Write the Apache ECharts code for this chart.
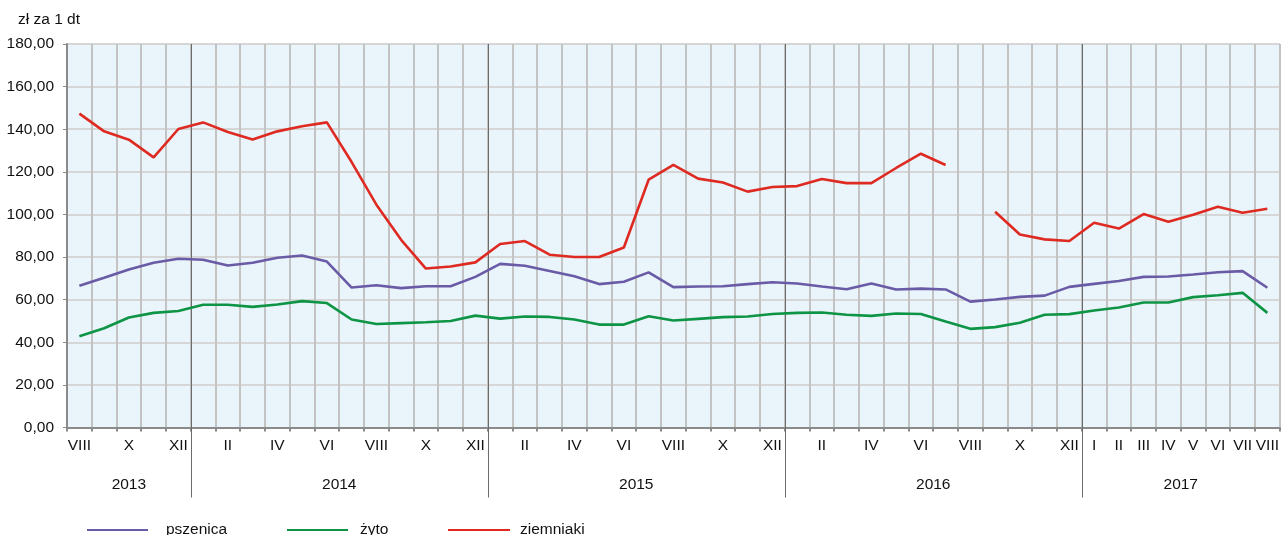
<!DOCTYPE html>
<html>
<head>
<meta charset="utf-8">
<script src="https://cdn.jsdelivr.net/npm/echarts@6/dist/echarts.min.js"></script>
<style>
html,body{margin:0;padding:0;background:#fff;}
#chart{width:1282px;height:535px;}
</style>
</head>
<body>
<div id="chart"></div>
<script>
// ---- data ----
const romanMonths = ['I','II','III','IV','V','VI','VII','VIII','IX','X','XI','XII'];
const yearSpans = [
  {year: '2013', from: 8, to: 12},
  {year: '2014', from: 1, to: 12},
  {year: '2015', from: 1, to: 12},
  {year: '2016', from: 1, to: 12},
  {year: '2017', from: 1, to: 8}
];
const yTicks = [0, 20, 40, 60, 80, 100, 120, 140, 160, 180];

const pszenica = [
  66.5, 70.3, 74.2, 77.3, 79.2,
  78.7, 76.0, 77.3, 79.7, 80.7, 77.9, 65.7, 66.8, 65.4, 66.3, 66.3, 70.7,
  76.8, 75.9, 73.5, 71.0, 67.3, 68.4, 72.8, 65.9, 66.2, 66.3, 67.3, 68.2,
  67.6, 66.2, 64.9, 67.6, 64.8, 65.2, 64.8, 59.1, 60.1, 61.3, 61.9, 66.0,
  67.4, 68.8, 70.7, 70.9, 71.8, 72.9, 73.4, 65.6
];
const zyto = [
  42.8, 46.6, 51.6, 53.8, 54.7,
  57.6, 57.6, 56.6, 57.7, 59.3, 58.4, 50.7, 48.6, 49.0, 49.4, 50.0, 52.5,
  51.1, 52.1, 51.9, 50.7, 48.3, 48.3, 52.2, 50.2, 51.0, 51.8, 52.1, 53.3,
  53.8, 54.0, 52.9, 52.4, 53.5, 53.3, 49.7, 46.3, 47.1, 49.2, 52.9, 53.2,
  54.9, 56.3, 58.7, 58.7, 61.2, 62.1, 63.2, 53.8
];
const ziemniaki = [
  147.3, 139.0, 135.1, 126.8, 140.1,
  143.2, 138.7, 135.2, 139.0, 141.4, 143.2, 124.6, 104.6, 88.1, 74.6, 75.6, 77.5,
  86.1, 87.5, 81.1, 80.0, 80.0, 84.5, 116.3, 123.3, 116.8, 115.0, 110.7, 112.9,
  113.3, 116.6, 114.7, 114.7, 121.8, 128.5, 123.2, null, 101.3, 90.6, 88.3, 87.5,
  96.1, 93.4, 100.2, 96.6, 99.9, 103.6, 100.8, 102.7
];

// ---- build categories ----
const categories = [];
const catMonth = [];
const catYear = [];
const yearRanges = [];
yearSpans.forEach(s => {
  const start = categories.length;
  for (let m = s.from; m <= s.to; m++) {
    categories.push(romanMonths[m - 1] + ' ' + s.year);
    catMonth.push(m);
    catYear.push(s.year);
  }
  yearRanges.push([start, categories.length - 1, s.year]);
});
const yearBoundaries = yearRanges.slice(1).map(r => [r[0], 0]);

const FONT = 'Liberation Sans, Arial, sans-serif';
const FS = 15.5;

const chart = echarts.init(document.getElementById('chart'), null, {renderer: 'canvas'});

const legendText = (pad) => ({fontSize: FS, fontFamily: FONT, color: '#111', padding: [0, 0, 0, pad]});

const option = {
  animation: false,
  backgroundColor: '#ffffff',
  textStyle: {fontFamily: FONT},
  graphic: [{
    type: 'text', left: 18, top: 12,
    style: {text: 'zł za 1 dt', font: '15.5px ' + FONT, fill: '#111'}
  }],
  grid: {
    left: 67, right: 2, top: 44, bottom: 107.5,
    show: true, backgroundColor: '#e9f4fb', borderColor: '#9a9a9a', borderWidth: 1
  },
  legend: [
    {data: ['pszenica'], left: 82, top: 517, itemWidth: 61, itemHeight: 2, icon: 'rect',
     textStyle: legendText(13)},
    {data: ['żyto'], left: 282, top: 517, itemWidth: 61, itemHeight: 2, icon: 'rect',
     textStyle: legendText(7)},
    {data: ['ziemniaki'], left: 443, top: 517, itemWidth: 62, itemHeight: 2, icon: 'rect',
     textStyle: legendText(5)}
  ],
  xAxis: {
    type: 'category',
    data: categories,
    boundaryGap: true,
    axisLine: {show: true, lineStyle: {color: '#8a8a8a', width: 2}},
    axisTick: {show: true, interval: 0, length: 4, lineStyle: {color: '#8a8a8a', width: 2}},
    axisLabel: {
      interval: (i) => catYear[i] === '2017' || catMonth[i] % 2 === 0,
      formatter: (v, i) => romanMonths[catMonth[i] - 1],
      fontSize: FS, fontFamily: FONT, color: '#111', margin: 10
    },
    splitLine: {show: true, interval: 0, lineStyle: {color: '#c3c3c3', width: 2}}
  },
  yAxis: {
    type: 'value',
    min: 0, max: 180, interval: 20,
    axisLine: {show: true, lineStyle: {color: '#8a8a8a', width: 2}},
    axisTick: {show: true, length: 4, lineStyle: {color: '#8a8a8a', width: 1}},
    axisLabel: {
      formatter: v => yTicks.includes(v) ? v.toFixed(2).replace('.', ',') : '',
      fontSize: FS, fontFamily: FONT, color: '#111', margin: 13
    },
    splitLine: {show: true, lineStyle: {color: '#d6d6d6', width: 2}}
  },
  series: [
    {
      name: 'year-separators', type: 'custom', silent: true, z: 3,
      data: yearBoundaries,
      encode: {x: 0, y: 1},
      renderItem: (params, api) => {
        const cs = params.coordSys;
        const x = Math.round(api.coord([api.value(0), 0])[0] - api.size([1, 0])[0] / 2) + 0.5;
        return {
          type: 'line',
          shape: {x1: x, y1: cs.y, x2: x, y2: cs.y + cs.height + 70},
          style: {stroke: '#6b6b6b', lineWidth: 1}
        };
      }
    },
    {
      name: 'year-labels', type: 'custom', silent: true, z: 3,
      data: yearRanges,
      encode: {x: 0},
      renderItem: (params, api) => {
        const cs = params.coordSys;
        const half = api.size([1, 0])[0] / 2;
        const x0 = api.coord([api.value(0), 0])[0] - half;
        const x1 = api.coord([api.value(1), 0])[0] + half;
        return {
          type: 'text',
          style: {
            text: yearRanges[params.dataIndex][2],
            x: (x0 + x1) / 2, y: cs.y + cs.height + 57,
            textAlign: 'center', textVerticalAlign: 'middle',
            font: FS + 'px ' + FONT, fill: '#111'
          }
        };
      }
    },
    {
      name: 'pszenica', type: 'line', data: pszenica, z: 5,
      symbol: 'none', lineStyle: {color: '#6a5ba6', width: 2.6}, itemStyle: {color: '#6a5ba6'}
    },
    {
      name: 'żyto', type: 'line', data: zyto, z: 5,
      symbol: 'none', lineStyle: {color: '#0d9444', width: 2.6}, itemStyle: {color: '#0d9444'}
    },
    {
      name: 'ziemniaki', type: 'line', data: ziemniaki, z: 5, connectNulls: false,
      symbol: 'none', lineStyle: {color: '#de2a21', width: 2.6}, itemStyle: {color: '#de2a21'}
    }
  ]
};
chart.setOption(option);
</script>
</body>
</html>
